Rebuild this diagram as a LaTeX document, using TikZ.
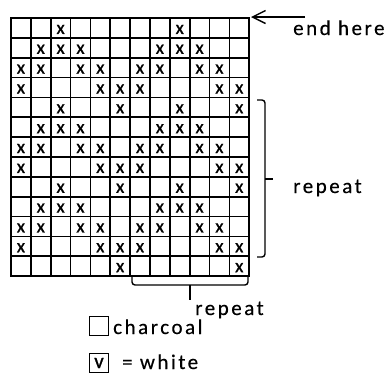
\documentclass[tikz,border=0pt]{standalone}
\usepackage{fontspec}
\setmainfont[LetterSpace=12,FakeBold=0.4]{Carlito}
\newfontfamily\markfont[FakeBold=1]{Carlito}
\usetikzlibrary{arrows.meta}
\tikzset{
  gridline/.style={line width=1.7pt, line cap=rect},
  xmark/.style={inner sep=0pt, font=\markfont\fontsize{19}{19}\selectfont},
  label/.style={inner sep=0pt, anchor=base west, font=\fontsize{21}{24}\selectfont},
  bracket/.style={line width=1.4pt, rounded corners=3pt},
  legendbox/.style={draw, line width=1.7pt, minimum width=19pt, minimum height=19pt, inner sep=0pt},
}
\begin{document}
\begin{tikzpicture}[x=1pt,y=-1pt]
\useasboundingbox (0,0) rectangle (389,373);
\def\cw{19.85}
% grid
\foreach \i in {0,...,12} \draw[gridline] (11+\i*\cw,18) -- (11+\i*\cw,18+13*\cw);
\foreach \j in {0,...,13} \draw[gridline] (11,18+\j*\cw) -- (11+12*\cw,18+\j*\cw);
% marks
\foreach \r/\cs in {1/{3,9},2/{2,3,4,8,9,10},3/{1,2,4,5,7,8,10,11},4/{1,5,6,7,11,12},
  5/{3,6,9,12},6/{2,3,4,8,9,10},7/{1,2,4,5,7,8,10,11},8/{1,5,6,7,11,12},
  9/{3,6,9,12},10/{2,3,4,8,9,10},11/{1,2,4,5,7,8,10,11},12/{1,5,6,7,11,12},13/{6,12}}
  \foreach \c in \cs
    \node[xmark] (x-\r-\c) at (11+\c*\cw-0.5*\cw, 19.5+\r*\cw-0.5*\cw) {x};
% end here
\node[label] (endtxt) at (293,35) {end here};
\coordinate (tip) at (251,17);
\coordinate (tail) at (305,17);
\draw[line width=1.4pt, -{Straight Barb[length=13pt,width=13pt]}] (tail) -- (tip);
% right brace
\draw[bracket] (257,100) -- (265,100) -- (265,257) -- (257,257);
\draw[line width=1.4pt] (265,179) -- (273,179);
\node[label] (rep1) at (293,193) {repeat};
% bottom brace
\draw[bracket] (132,275) -- (132,285) -- (248,285) -- (248,275);
\draw[line width=1.4pt] (190,285) -- (190,300);
\node[label] (rep2) at (195,315) {repeat};
% legend
\node[legendbox] (charbox) at (99,326) {};
\node[label] (chartxt) at (113,334) {charcoal};
\node[legendbox, font=\markfont\fontsize{21}{21}\selectfont] (whitebox) at (99,363) {v};
\node[label] (whitetxt) at (122,369) {= white};
\end{tikzpicture}
\end{document}
